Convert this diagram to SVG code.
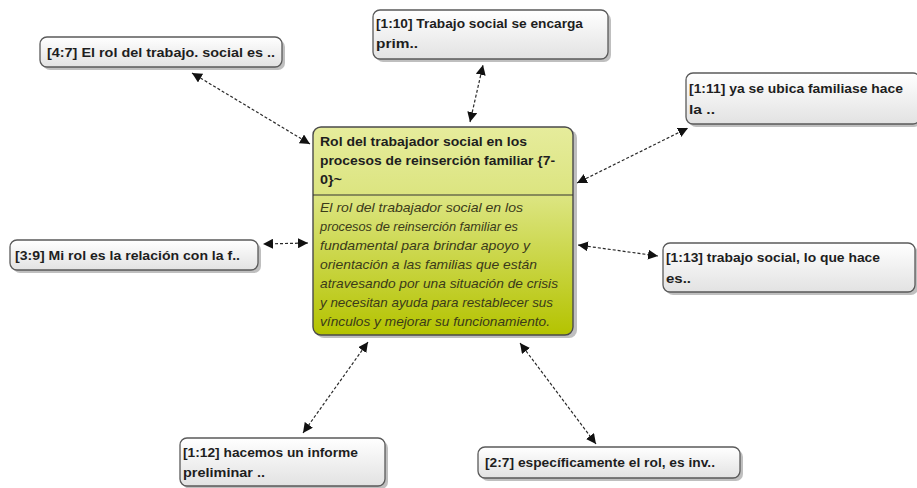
<svg xmlns="http://www.w3.org/2000/svg" width="917" height="488" viewBox="0 0 917 488">
<style>
.t{font-family:"Liberation Sans",Arial,sans-serif;font-weight:bold;font-size:13.5px;fill:#1e1e1e}
.b{font-family:"Liberation Sans",Arial,sans-serif;font-style:italic;font-size:13px;fill:#3a3a1a}
.n{fill:url(#gn);stroke:#5a5a5a;stroke-width:1.3}
.s{fill:#8a8a8a;opacity:0.55}
.c{fill:none;stroke:#2a2a2a;stroke-width:1.2;stroke-dasharray:3 2;marker-start:url(#ah);marker-end:url(#ah)}
</style>
<defs>
<linearGradient id="gn" x1="0" y1="0" x2="0" y2="1">
<stop offset="0" stop-color="#ffffff"/>
<stop offset="1" stop-color="#e2e2e2"/>
</linearGradient>
<linearGradient id="gc" x1="0" y1="0" x2="0" y2="1">
<stop offset="0" stop-color="#e6ec9c"/>
<stop offset="0.35" stop-color="#dbe47e"/>
<stop offset="1" stop-color="#b4c300"/>
</linearGradient>
<marker id="ah" viewBox="0 0 10 10" refX="10" refY="5" markerWidth="10" markerHeight="10" markerUnits="userSpaceOnUse" orient="auto-start-reverse">
<path d="M0,0 L10,5 L0,10 Z" fill="#111"/>
</marker>
</defs>
<g id="connectors">
<line class="c" x1="310" y1="144" x2="192" y2="73"/>
<line class="c" x1="470" y1="122" x2="483" y2="65"/>
<line class="c" x1="577" y1="183" x2="688" y2="128"/>
<line class="c" x1="308" y1="243" x2="263" y2="244"/>
<line class="c" x1="578" y1="245" x2="658" y2="256"/>
<line class="c" x1="368" y1="342" x2="303" y2="433"/>
<line class="c" x1="520" y1="343" x2="596" y2="444"/>
</g>
<g id="central">
<rect class="s" x="316" y="130" width="261" height="208" rx="8"/>
<rect x="313" y="127" width="260" height="208" rx="8" fill="url(#gc)" stroke="#4a4a4a" stroke-width="1.4"/>
<line x1="313" y1="195" x2="573" y2="195" stroke="#333" stroke-width="1.2"/>
<text class="t" x="320" y="146" textLength="207" lengthAdjust="spacingAndGlyphs">Rol del trabajador social en los</text>
<text class="t" x="320" y="165" textLength="235" lengthAdjust="spacingAndGlyphs">procesos de reinserción familiar {7-</text>
<text class="t" x="320" y="184" textLength="22" lengthAdjust="spacingAndGlyphs">0}~</text>
<text class="b" x="320" y="212" textLength="203" lengthAdjust="spacingAndGlyphs">El rol del trabajador social en los</text>
<text class="b" x="320" y="231" textLength="198" lengthAdjust="spacingAndGlyphs">procesos de reinserción familiar es</text>
<text class="b" x="320" y="250" textLength="210" lengthAdjust="spacingAndGlyphs">fundamental para brindar apoyo y</text>
<text class="b" x="320" y="269" textLength="217" lengthAdjust="spacingAndGlyphs">orientación a las familias que están</text>
<text class="b" x="320" y="288" textLength="238" lengthAdjust="spacingAndGlyphs">atravesando por una situación de crisis</text>
<text class="b" x="320" y="307" textLength="233" lengthAdjust="spacingAndGlyphs">y necesitan ayuda para restablecer sus</text>
<text class="b" x="320" y="326" textLength="230" lengthAdjust="spacingAndGlyphs">vínculos y mejorar su funcionamiento.</text>
</g>
<g id="n47">
<rect class="s" x="43" y="40" width="242" height="30" rx="7"/>
<rect class="n" x="40" y="37" width="242" height="30" rx="7"/>
<text class="t" x="47" y="57" textLength="228" lengthAdjust="spacingAndGlyphs">[4:7] El rol del trabajo. social es ..</text>
</g>
<g id="n110">
<rect class="s" x="376" y="13" width="235" height="49" rx="7"/>
<rect class="n" x="373" y="10" width="235" height="49" rx="7"/>
<text class="t" x="376" y="28" textLength="207" lengthAdjust="spacingAndGlyphs">[1:10] Trabajo social se encarga</text>
<text class="t" x="376" y="48" textLength="42" lengthAdjust="spacingAndGlyphs">prim..</text>
</g>
<g id="n111">
<rect class="s" x="689" y="76" width="232" height="51" rx="7"/>
<rect class="n" x="686" y="73" width="234" height="51" rx="7"/>
<text class="t" x="689" y="93" textLength="214" lengthAdjust="spacingAndGlyphs">[1:11] ya se ubica familiase hace</text>
<text class="t" x="689" y="114" textLength="26" lengthAdjust="spacingAndGlyphs">la ..</text>
</g>
<g id="n39">
<rect class="s" x="13" y="243" width="248" height="30" rx="7"/>
<rect class="n" x="10" y="240" width="248" height="30" rx="7"/>
<text class="t" x="15" y="260" textLength="225" lengthAdjust="spacingAndGlyphs">[3:9] Mi rol es la relación con la f..</text>
</g>
<g id="n113">
<rect class="s" x="666" y="246" width="252" height="49" rx="7"/>
<rect class="n" x="663" y="243" width="252" height="49" rx="7"/>
<text class="t" x="666" y="262" textLength="214" lengthAdjust="spacingAndGlyphs">[1:13] trabajo social, lo que hace</text>
<text class="t" x="666" y="283" textLength="25" lengthAdjust="spacingAndGlyphs">es..</text>
</g>
<g id="n112">
<rect class="s" x="183" y="441" width="205" height="48" rx="7"/>
<rect class="n" x="180" y="438" width="205" height="48" rx="7"/>
<text class="t" x="183" y="457" textLength="175" lengthAdjust="spacingAndGlyphs">[1:12] hacemos un informe</text>
<text class="t" x="183" y="477" textLength="82" lengthAdjust="spacingAndGlyphs">preliminar ..</text>
</g>
<g id="n27">
<rect class="s" x="481" y="450" width="262" height="31" rx="7"/>
<rect class="n" x="478" y="447" width="262" height="31" rx="7"/>
<text class="t" x="485" y="467" textLength="230" lengthAdjust="spacingAndGlyphs">[2:7] específicamente el rol, es inv..</text>
</g>
</svg>
